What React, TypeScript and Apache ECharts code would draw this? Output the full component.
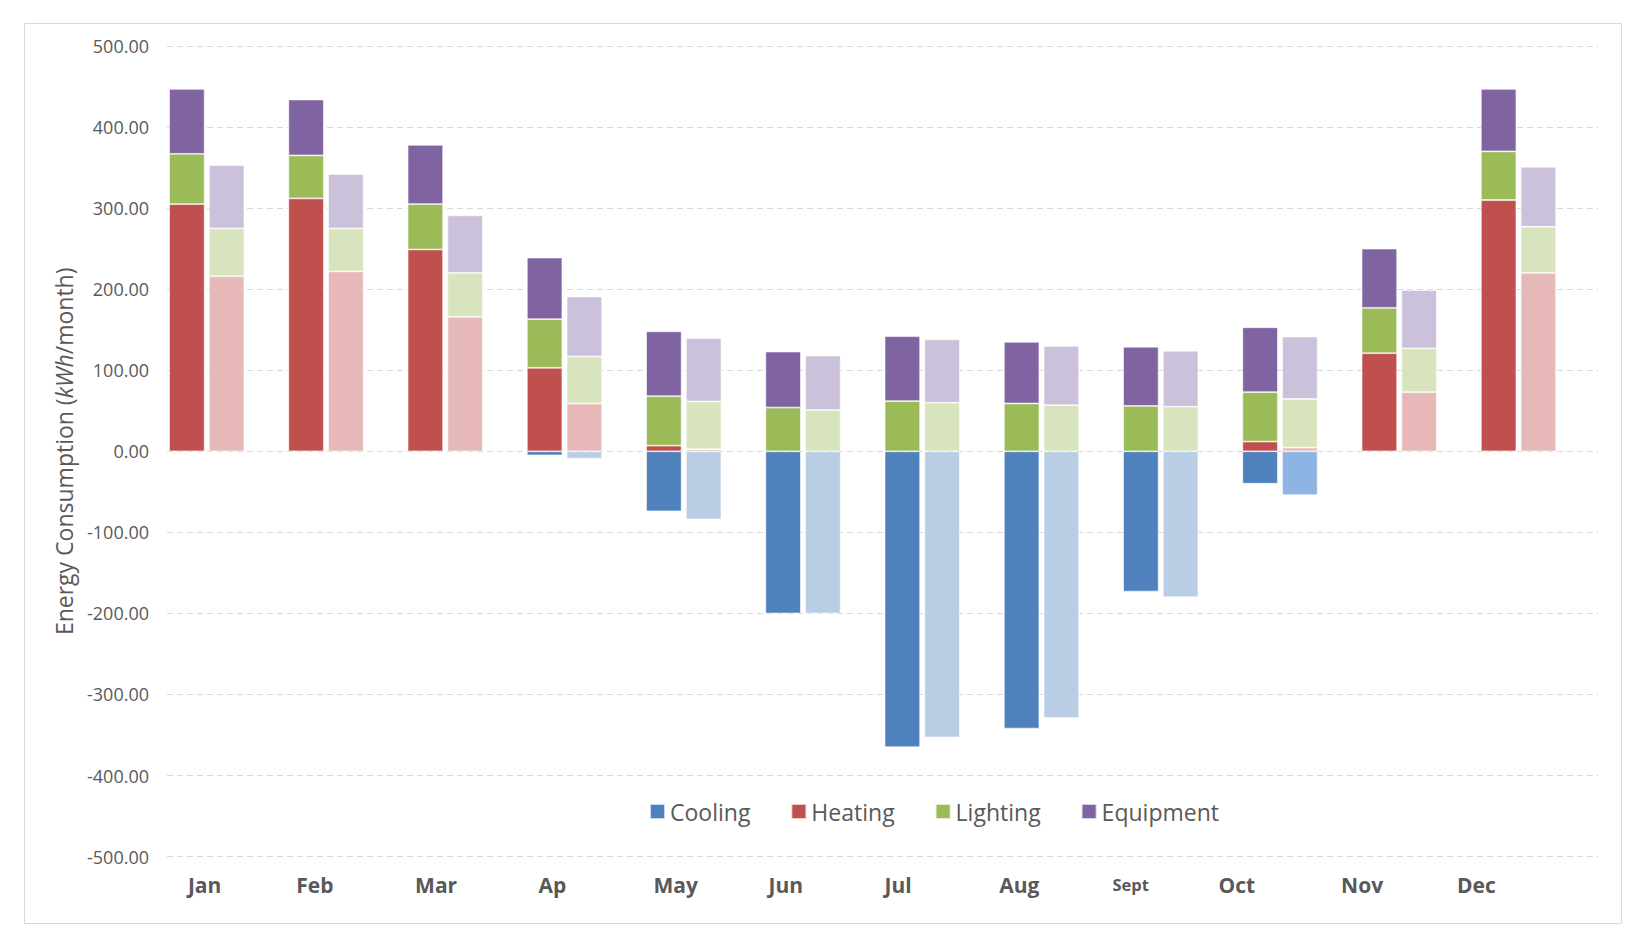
import React, { useEffect, useRef } from "react";
import * as echarts from "echarts";

const months = ["Jan", "Feb", "Mar", "Ap", "May", "Jun", "Jul", "Aug", "Sept", "Oct", "Nov", "Dec"];
const yTicks = [-500, -400, -300, -200, -100, 0, 100, 200, 300, 400, 500];
const legendNames = ["Cooling", "Heating", "Lighting", "Equipment"];

// Baseline (dark bars)
const coolingBase = [0, 0, 0, -5, -74, -200, -365, -342, -173, -40, 0, 0];
const heatingBase = [305, 312, 249, 103, 7, 0, 0, 0, 0, 12, 121, 310];
const lightingBase = [62, 53, 56, 60, 61, 54, 62, 59, 56, 61, 56, 60];
const equipmentBase = [80, 69, 73, 76, 80, 69, 80, 76, 73, 80, 73, 77];

// Improved (light bars)
const coolingImp = [0, 0, 0, -9, -84, -200, -353, -329, -180, -54, 0, 0];
const heatingImp = [216, 222, 166, 59, 2.5, 0, 0, 0, 0, 4.5, 73, 220];
const lightingImp = [59, 53, 54, 58, 59, 51, 60, 57, 55, 60, 54, 57];
const equipmentImp = [78, 67, 71, 74, 78, 67, 78, 73, 69, 77, 72, 74];

const darkColors = ["#4F81BD", "#C0504D", "#9BBB59", "#8064A2"];
const lightColors = ["#B9CDE5", "#E6B9B8", "#D7E4BD", "#CCC1DA"];
const octLightCooling = "#8DB4E2";

// label horizontal shifts (px, to the left of band centre)
const labelShift = [22, 31, 29, 32, 28, 37, 44, 42, 50, 63, 57, 62];

const FONT = "'Open Sans', 'Noto Sans', sans-serif";

export default function App() {
  const ref = useRef<HTMLDivElement>(null);
  useEffect(() => {
    if (!ref.current) return;
    const chart = echarts.init(ref.current, undefined, { renderer: "svg" });

    const baseSets = [coolingBase, heatingBase, lightingBase, equipmentBase];
    const impSets = [coolingImp, heatingImp, lightingImp, equipmentImp];
    const toData = (arr: number[], special?: (i: number) => any) =>
      arr.map((v, i) => {
        if (v === 0) return null;
        const s = special ? special(i) : null;
        return s ? { value: v, itemStyle: s } : v;
      });

    const common = {
      type: "bar",
      barWidth: 35.5,
      barGap: "12%",
      barCategoryGap: 4,
      silent: true,
    };

    const series: any[] = [];
    legendNames.forEach((name, k) => {
      series.push({
        ...common,
        name,
        stack: "base",
        itemStyle: { color: darkColors[k], borderColor: "rgba(255,255,255,0.7)", borderWidth: 0.8 },
        data: toData(baseSets[k]),
      });
    });
    legendNames.forEach((name, k) => {
      series.push({
        ...common,
        name,
        stack: "imp",
        itemStyle: { color: lightColors[k], borderColor: "rgba(255,255,255,0.7)", borderWidth: 0.8 },
        data: toData(impSets[k], k === 0 ? (i) => (months[i] === "Oct" ? { color: octLightCooling } : null) : undefined),
      });
    });
    series.push({ ...common, name: "spacer", stack: "spacer", data: months.map(() => null) });

    const rich: any = {};
    months.forEach((m, i) => {
      rich["m" + i] = {
        fontFamily: FONT,
        fontWeight: "bold",
        fontSize: m === "Sept" ? 16.5 : 21,
        color: "#595959",
        lineHeight: 24,
        padding: [0, labelShift[i] * 2, 0, 0],
      };
    });

    chart.setOption({
      animation: false,
      backgroundColor: "#ffffff",
      textStyle: { fontFamily: FONT },
      grid: { left: 167, right: 40, top: 46, bottom: 87.4, containLabel: false },
      legend: {
        data: legendNames,
        left: 644,
        top: 795,
        itemWidth: 15,
        itemHeight: 15,
        itemGap: 40,
        icon: "rect",
        textStyle: { fontFamily: FONT, fontSize: 23, color: "#595959", padding: [0, 0, 0, 0] },
        selectedMode: false,
      },
      xAxis: {
        type: "category",
        data: months,
        position: "bottom",
        axisLine: { show: false },
        axisTick: { show: false },
        axisLabel: {
          margin: 16,
          interval: 0,
          hideOverlap: false,
          showMaxLabel: true,
          showMinLabel: true,
          formatter: (v: string) => `{m${months.indexOf(v)}|${v}}`,
          rich,
        },
      },
      yAxis: {
        type: "value",
        min: yTicks[0],
        max: yTicks[yTicks.length - 1],
        interval: 100,
        axisLine: { show: false },
        axisTick: { show: false },
        splitLine: { lineStyle: { color: "#D9D9D9", type: [6, 4], width: 1 } },
        axisLabel: {
          margin: 18,
          fontFamily: FONT,
          fontSize: 18,
          color: "#595959",
          formatter: (v: number) => v.toFixed(2),
        },
        name: "{n|Energy Consumption (}{i|kWh}{n|/month)}",
        nameLocation: "middle",
        nameGap: 92,
        nameRotate: 90,
        nameTextStyle: {
          rich: {
            n: { fontFamily: FONT, fontSize: 23, color: "#595959" },
            i: { fontFamily: FONT, fontSize: 23, color: "#595959", fontStyle: "italic" },
          },
        },
      },
      graphic: [
        {
          type: "rect",
          silent: true,
          shape: { x: 24.5, y: 23.5, width: 1597, height: 900 },
          style: { fill: "none", stroke: "#D9D9D9", lineWidth: 1 },
        },
      ],
      series,
    });
    return () => chart.dispose();
  }, []);
  return (
    <div
      ref={ref}
      style={{ position: "fixed", left: 0, top: 0, width: 1638, height: 944, background: "#fff" }}
    />
  );
}
